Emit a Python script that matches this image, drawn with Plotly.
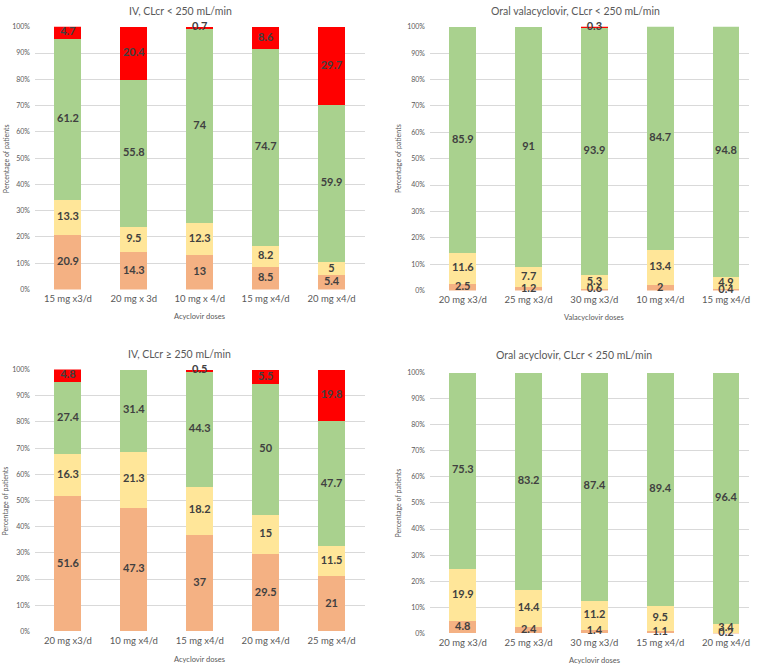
import plotly.graph_objects as go

# ---------------- data ----------------
tl_title = "IV, CLcr < 250 mL/min"
tl_cats = ["15 mg x3/d", "20 mg x 3d", "10 mg x 4/d", "15 mg x4/d", "20 mg x4/d"]
tl_orange = [20.9, 14.3, 13, 8.5, 5.4]
tl_yellow = [13.3, 9.5, 12.3, 8.2, 5]
tl_green = [61.2, 55.8, 74, 74.7, 59.9]
tl_red = [4.7, 20.4, 0.7, 8.6, 29.7]
tl_xtitle = "Acyclovir doses"

tr_title = "Oral valacyclovir, CLcr < 250 mL/min"
tr_cats = ["20 mg x3/d", "25 mg x3/d", "30 mg x3/d", "10 mg x4/d", "15 mg x4/d"]
tr_orange = [2.5, 1.2, 0.6, 2, 0.4]
tr_yellow = [11.6, 7.7, 5.3, 13.4, 4.9]
tr_green = [85.9, 91, 93.9, 84.7, 94.8]
tr_red = [0, 0, 0.3, 0, 0]
tr_xtitle = "Valacyclovir doses"

bl_title = "IV, CLcr ≥ 250 mL/min"
bl_cats = ["20 mg x3/d", "10 mg x4/d", "15 mg x4/d", "20 mg x4/d", "25 mg x4/d"]
bl_orange = [51.6, 47.3, 37, 29.5, 21]
bl_yellow = [16.3, 21.3, 18.2, 15, 11.5]
bl_green = [27.4, 31.4, 44.3, 50, 47.7]
bl_red = [4.8, 0, 0.5, 5.5, 19.8]
bl_xtitle = "Acyclovir doses"

br_title = "Oral acyclovir, CLcr < 250 mL/min"
br_cats = ["20 mg x3/d", "25 mg x3/d", "30 mg x3/d", "15 mg x4/d", "20 mg x4/d"]
br_orange = [4.8, 2.4, 1.4, 1.1, 0.2]
br_yellow = [19.9, 14.4, 11.2, 9.5, 3.4]
br_green = [75.3, 83.2, 87.4, 89.4, 96.4]
br_red = [0, 0, 0, 0, 0]
br_xtitle = "Acyclovir doses"

y_ticks = [0, 10, 20, 30, 40, 50, 60, 70, 80, 90, 100]
y_ticklabels = [f"{v}%" for v in y_ticks]
y_title = "Percentage of patients"

colors = ["#F4B183", "#FFE699", "#A9D18E", "#FF0000"]

# ---------------- layout geometry (pixels) ----------------
W, H = 760, 668
FONT = "Lato"

def px(x):
    return x / W

def py(y):
    return 1 - y / H

panels = [
    dict(title=tl_title, cats=tl_cats, series=[tl_orange, tl_yellow, tl_green, tl_red], xt=tl_xtitle,
         x0=35, x1=365, y0=22, y1=288, xr=[-0.5, 4.5], tx=181, ty=6.5, ytx=6, xty=315, xtx=200),
    dict(title=tr_title, cats=tr_cats, series=[tr_orange, tr_yellow, tr_green, tr_red], xt=tr_xtitle,
         x0=430.5, x1=750, y0=22, y1=289, xr=[-0.5, 4.35], tx=576, ty=6.5, ytx=398, xty=316, xtx=595),
    dict(title=bl_title, cats=bl_cats, series=[bl_orange, bl_yellow, bl_green, bl_red], xt=bl_xtitle,
         x0=35, x1=365, y0=369, y1=634, xr=[-0.5, 4.5], tx=180, ty=353, ytx=6, xty=662, xtx=200),
    dict(title=br_title, cats=br_cats, series=[br_orange, br_yellow, br_green, br_red], xt=br_xtitle,
         x0=430.5, x1=750, y0=372, y1=636, xr=[-0.5, 4.35], tx=575, ty=354, ytx=398, xty=663, xtx=595),
]

fig = go.Figure()
annotations = []
layout = dict(
    width=W, height=H, margin=dict(l=0, r=0, t=0, b=0),
    paper_bgcolor="white", plot_bgcolor="white",
    barmode="stack", bargap=0.59, showlegend=False,
    font=dict(family=FONT, color="#595959"),
)

for i, p in enumerate(panels):
    n = "" if i == 0 else str(i + 1)
    xa, ya = "x" + n, "y" + n
    cum = [0] * len(p["cats"])
    for s, col in zip(p["series"], colors):
        fig.add_trace(go.Bar(x=p["cats"], y=s, marker=dict(color=col, line=dict(width=0)),
                             xaxis=xa, yaxis=ya, width=0.41, hoverinfo="skip"))
        mids = [c + v / 2 for c, v in zip(cum, s)]
        cum = [c + v for c, v in zip(cum, s)]
        txt = [("%g" % v) if v > 0 else "" for v in s]
        fig.add_trace(go.Scatter(x=p["cats"], y=mids, text=txt, mode="text",
                                 textfont=dict(family=FONT, size=11, color="#404040", weight="bold"),
                                 xaxis=xa, yaxis=ya, hoverinfo="skip", cliponaxis=False))
    layout["xaxis" + n] = dict(domain=[px(p["x0"]), px(p["x1"])], anchor=ya, type="category",
                               range=p["xr"], showgrid=False, showline=False, zeroline=False,
                               ticks="", tickfont=dict(size=9.5, color="#595959"), ticklabelstandoff=2)
    layout["yaxis" + n] = dict(domain=[py(p["y1"]), py(p["y0"])], anchor=xa, range=[0, 100],
                               tickvals=y_ticks, ticktext=y_ticklabels, showgrid=True,
                               gridcolor="#D9D9D9", gridwidth=1, zeroline=False, showline=False,
                               ticks="", tickfont=dict(size=7, color="#595959"), ticklabelstandoff=4)
    annotations.append(dict(text=p["title"], x=px(p["tx"]), y=py(p["ty"]), xref="paper", yref="paper",
                            showarrow=False, font=dict(size=10.5, color="#595959", family=FONT),
                            xanchor="center", yanchor="middle"))
    annotations.append(dict(text=p["xt"], x=px(p["xtx"]), y=py(p["xty"]), xref="paper", yref="paper",
                            showarrow=False, font=dict(size=7.5, color="#595959", family=FONT),
                            xanchor="center", yanchor="middle"))
    annotations.append(dict(text=y_title, x=px(p["ytx"]), y=py((p["y0"] + p["y1"]) / 2),
                            xref="paper", yref="paper", textangle=-90, showarrow=False,
                            font=dict(size=7, color="#595959", family=FONT),
                            xanchor="center", yanchor="middle"))

layout["annotations"] = annotations
fig.update_layout(**layout)
fig.write_html("out.html", config={"displayModeBar": False},
               post_script="document.body.style.margin='0px';document.body.style.overflow='hidden';")
